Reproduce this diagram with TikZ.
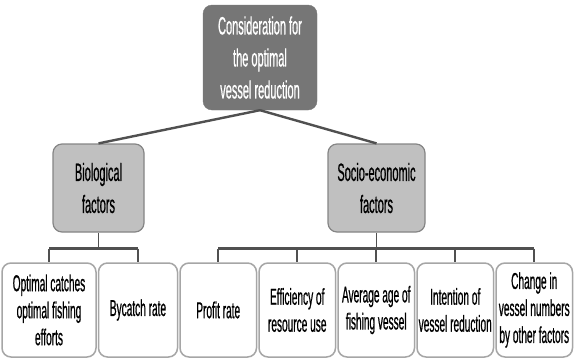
\documentclass[tikz,border=0pt]{standalone}
\usepackage{fontspec}
\setmainfont{Liberation Sans}[FakeStretch=0.44,FakeBold=0.6]
\usetikzlibrary{positioning}
\definecolor{vrDark} {HTML}{767676}
\definecolor{vrMid}  {HTML}{C0C0C0}
\definecolor{vrEdge} {HTML}{858585}
\definecolor{vrLeaf} {HTML}{A6A6A6}
\definecolor{vrLine} {HTML}{505050}

\begin{document}
\begin{tikzpicture}[x=1pt,y=1pt,
      rootbox/.style={draw=vrDark,fill=vrDark,rounded corners=9pt,text=white,align=center,
                      minimum width=114pt,minimum height=105pt,inner sep=2pt,
                      font=\fontsize{25}{32}\selectfont},
      midbox/.style={draw=vrEdge,line width=1.2pt,fill=vrMid,rounded corners=9pt,align=center,
                     minimum height=88pt,inner sep=2pt,font=\fontsize{25}{32}\selectfont},
      leaf/.style={draw=vrLeaf,line width=1.5pt,fill=white,rounded corners=9pt,align=center,
                   minimum width=76.5pt,minimum height=94pt,inner sep=1pt,
                   font=\fontsize{23}{27}\selectfont},
      conn/.style={draw=vrLine,line width=2.4pt},
      drop/.style={draw=vrLine,line width=1.6pt}]
    \useasboundingbox (0,0) rectangle (576,360);
    \node[rootbox] (root) at (260,302.5) {Consideration for\\ the optimal\\ vessel reduction};
    \node[midbox,minimum width=91pt] (bio) at (98.5,172) {Biological\\ factors};
    \node[midbox,minimum width=97pt] (soc) at (376.5,172) {Socio-economic\\ factors};
    \draw[conn] (root.south) -- (bio.north);
    \draw[conn] (root.south) -- (soc.north);
    \node[leaf,minimum width=94pt] (catch) at (49,50) {Optimal catches\\ optimal fishing\\ efforts};
    \node[leaf,right=1pt of catch,minimum width=79pt] (bycatch) {Bycatch rate};
    \node[leaf,right=1pt of bycatch] (profit) {Profit rate};
    \node[leaf,right=1pt of profit] (effic) {Efficiency of\\ resource use};
    \node[leaf,right=1pt of effic] (age) {Average age of\\ fishing vessel};
    \node[leaf,right=1pt of age] (intent) {Intention of\\ vessel reduction};
    \node[leaf,right=1pt of intent] (change) {Change in\\ vessel numbers\\ by other factors};
    \coordinate (bioBar) at ([yshift=-16pt]bio.south);
    \coordinate (socBar) at ([yshift=-16pt]soc.south);
    \draw[drop] (bio.south) -- (bioBar);
    \draw[drop] (soc.south) -- (socBar);
    \draw[conn] (catch.north |- bioBar) -- (bycatch.north |- bioBar);
    \draw[conn] (profit.north |- socBar) -- (change.north |- socBar);
    \foreach \n in {catch,bycatch}
      \draw[drop] (bioBar -| \n.north) -- (\n.north);
    \foreach \n in {profit,effic,age,intent,change}
      \draw[drop] (socBar -| \n.north) -- (\n.north);
  \end{tikzpicture}
\end{document}
